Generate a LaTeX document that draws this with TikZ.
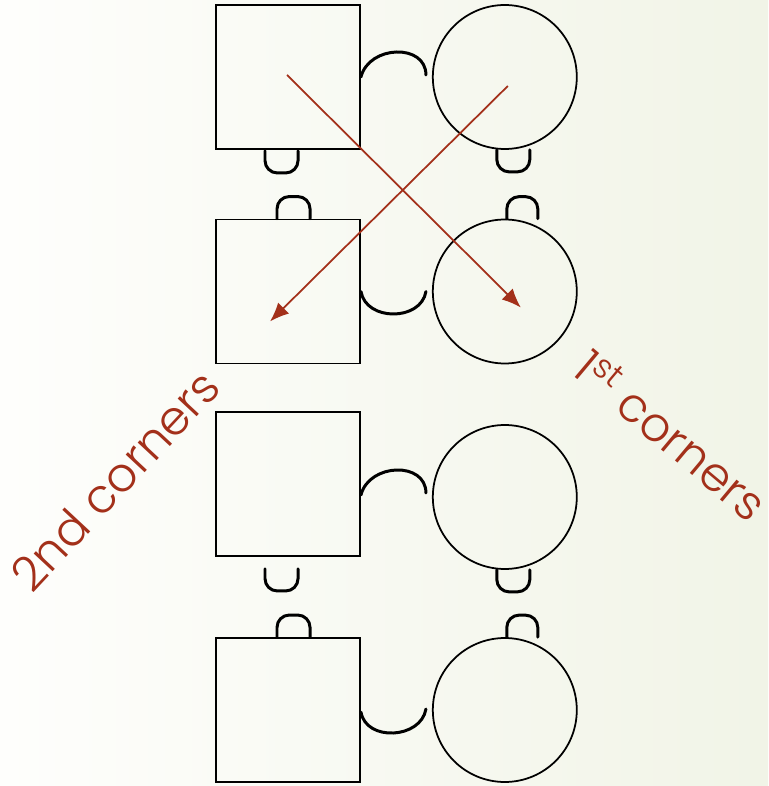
\documentclass[tikz,border=0pt]{standalone}
\usepackage{fontspec}
\newfontfamily\tagfont{Poppins Light}
\usepackage{tikz}
\usepackage{xcolor}
\usetikzlibrary{arrows.meta,positioning,calc}
\definecolor{rust}{RGB}{163,48,26}
\definecolor{bgleft}{RGB}{254,254,252}
\definecolor{bgright}{RGB}{241,244,231}

\begin{document}
\begin{tikzpicture}[x=0.02cm, y=-0.02cm,
    tbl/.style={draw, line width=1.1pt, minimum size=2.88cm, inner sep=0pt},
    rnd/.style={draw, circle, line width=1pt, minimum size=2.88cm, inner sep=0pt},
    seat/.style={line width=1.7pt, line cap=round, rounded corners=7pt},
    bump/.style={line width=1.7pt, line cap=round},
    pass/.style={rust, line width=1pt, -{Latex[length=3.8mm, width=3.1mm]}},
    tag/.style={rust, font=\tagfont\fontsize{27}{30}\selectfont, inner sep=0pt}]
        % background
        \useasboundingbox (0,0) rectangle (768,786);
        \shade[left color=bgleft, middle color=bgleft!65!bgright, right color=bgright] (0,0) rectangle (768,786);

        % tables and chairs
        \node[tbl] (s1) at (288,77) {};
        \node[rnd, right=1.42cm of s1] (c1) {};
        \node[tbl] (s2) at (288,291.5) {};
        \node[rnd, right=1.42cm of s2] (c2) {};
        \node[tbl] (s3) at (288,484) {};
        \node[rnd, right=1.42cm of s3, yshift=-0.26cm] (c3) {};
        \node[tbl] (s4) at (288,710) {};
        \node[rnd, right=1.42cm of s4] (c4) {};

        % side links
        \draw[bump] (s1.east) .. controls +(8,-32) and +(0,-32) .. ($(c1.west)+(-6,-2)$);
        \draw[bump] (s2.east) .. controls +(5,30) and +(-5,30) .. ($(c2.west)+(-6,0)$);
        \draw[bump] ($(s3.east)+(0,11)$) .. controls +(8,-32) and +(0,-32) .. ($(c3.west)+(-6,-4)$);
        \draw[bump] ($(s4.east)+(0,2)$) .. controls +(5,30) and +(-5,30) .. ($(c4.west)+(-6,-1)$);

        % handles
        \draw[seat] ($(s1.south)+(-23,1)$) -- ++(0,22) -| ($(s1.south)+(10,1)$);
        \draw[seat] ($(c1.south)+(-8,0)$) -- ++(0,22) -| ($(c1.south)+(25,0)$);
        \draw[seat] ($(s2.north)+(-11,0)$) -- ++(0,-22) -| ($(s2.north)+(22,0)$);
        \draw[seat] ($(c2.north)+(2,0)$) -- ++(0,-22) -| ($(c2.north)+(33,0)$);
        \draw[seat] ($(s3.south)+(-23,12)$) -- ++(0,22) -| ($(s3.south)+(10,12)$);
        \draw[seat] ($(c3.south)+(-8,0)$) -- ++(0,22) -| ($(c3.south)+(25,0)$);
        \draw[seat] ($(s4.north)+(-11,0)$) -- ++(0,-22) -| ($(s4.north)+(22,0)$);
        \draw[seat] ($(c4.north)+(2,0)$) -- ++(0,-22) -| ($(c4.north)+(33,0)$);

        % crossing arrows
        \draw[pass] ($(s1.center)+(-1,-2)$) -- ($(c2.center)+(16,16)$);
        \draw[pass] ($(c1.center)+(3,9)$) -- ($(s2.center)+(-18,30)$);

        % labels
        \node[tag, rotate=47] (second) at (115,480) {2nd corners};
        \node[tag, rotate=-40] (first) at (672,434) {1\textsuperscript{st} corners};
      \end{tikzpicture}
\end{document}
